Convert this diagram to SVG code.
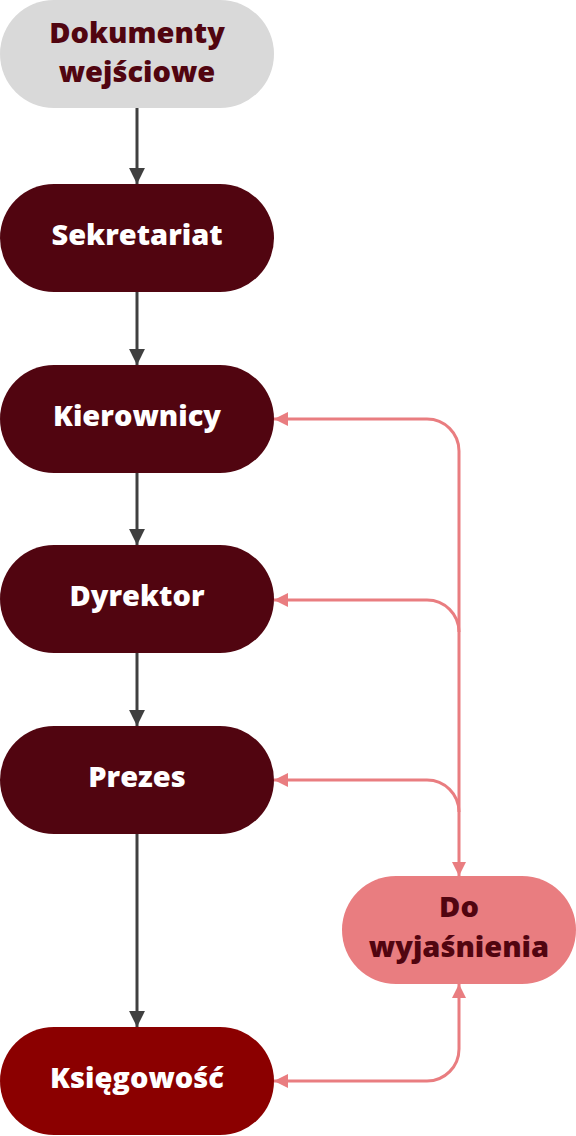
<svg xmlns="http://www.w3.org/2000/svg" width="576" height="1136" viewBox="0 0 576 1136">
<style>
.lbl{font-family:"Open Sans","Liberation Sans",sans-serif;font-weight:800;font-size:29px;text-anchor:middle}
.w{fill:#ffffff}
.d{fill:#510510}
.flow{stroke:#404040;stroke-width:3;fill:none}
.back{stroke:#e97d80;stroke-width:3;fill:none}
</style>
<defs>
<marker id="ad" viewBox="0 0 10 10" refX="10" refY="5" markerWidth="5.3" markerHeight="5.3" orient="auto"><path d="M0,0 L10,5 L0,10 Z" fill="#404040"/></marker>
<marker id="ap" viewBox="0 0 10 10" refX="10" refY="5" markerWidth="4.8" markerHeight="4.8" orient="auto-start-reverse"><path d="M0,0 L10,5 L0,10 Z" fill="#e97d80"/></marker>
</defs>
<g id="connectors">
<path class="flow" d="M137,108 V184" marker-end="url(#ad)"/>
<path class="flow" d="M137,292 V365" marker-end="url(#ad)"/>
<path class="flow" d="M137,473 V545" marker-end="url(#ad)"/>
<path class="flow" d="M137,653 V726" marker-end="url(#ad)"/>
<path class="flow" d="M137,834 V1027" marker-end="url(#ad)"/>
<path class="back" d="M274,419 H427 A32,32 0 0 1 459,451 V876" marker-start="url(#ap)" marker-end="url(#ap)"/>
<path class="back" d="M274,600 H427 A32,32 0 0 1 459,632" marker-start="url(#ap)"/>
<path class="back" d="M274,780 H427 A32,32 0 0 1 459,812" marker-start="url(#ap)"/>
<path class="back" d="M274,1081 H427 A32,32 0 0 0 459,1049 V984" marker-start="url(#ap)" marker-end="url(#ap)"/>
</g>
<g id="node-dokumenty">
<rect x="0" y="0" width="274" height="108" rx="54" fill="#d9d9d9"/>
<text class="lbl d" x="137" y="43">Dokumenty</text>
<text class="lbl d" x="137" y="82">wejściowe</text>
</g>
<g id="node-sekretariat">
<rect x="0" y="184" width="274" height="108" rx="54" fill="#510510"/>
<text class="lbl w" x="137" y="245">Sekretariat</text>
</g>
<g id="node-kierownicy">
<rect x="0" y="365" width="274" height="108" rx="54" fill="#510510"/>
<text class="lbl w" x="137" y="426">Kierownicy</text>
</g>
<g id="node-dyrektor">
<rect x="0" y="545" width="274" height="108" rx="54" fill="#510510"/>
<text class="lbl w" x="137" y="606">Dyrektor</text>
</g>
<g id="node-prezes">
<rect x="0" y="726" width="274" height="108" rx="54" fill="#510510"/>
<text class="lbl w" x="137" y="787">Prezes</text>
</g>
<g id="node-ksiegowosc">
<rect x="0" y="1027" width="274" height="108" rx="54" fill="#8b0000"/>
<text class="lbl w" x="137" y="1088">Księgowość</text>
</g>
<g id="node-do-wyjasnienia">
<rect x="342" y="876" width="234" height="108" rx="54" fill="#e97d80"/>
<text class="lbl d" x="459" y="917">Do</text>
<text class="lbl d" x="459" y="957">wyjaśnienia</text>
</g>
</svg>
